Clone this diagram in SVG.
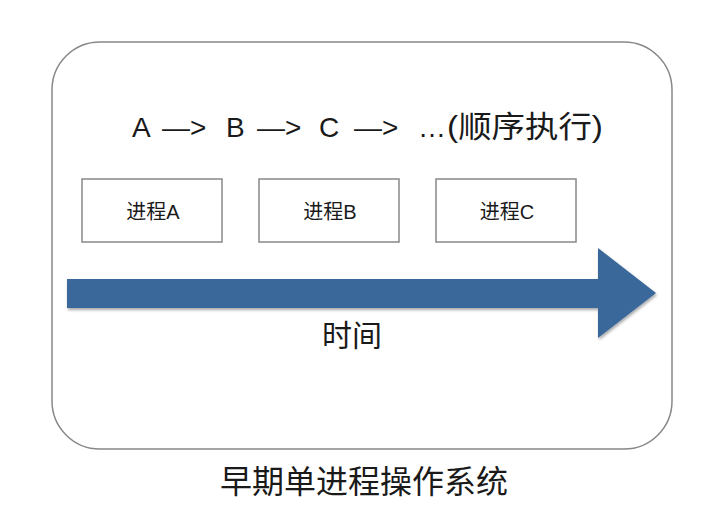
<svg xmlns="http://www.w3.org/2000/svg" width="710" height="507" viewBox="0 0 710 507">
<style>
text{font-family:"Liberation Sans","Noto Sans CJK SC",sans-serif;fill:#1a1a1a;}
.box{fill:#fff;stroke:#888;stroke-width:1.5;}
.lbl{font-size:20px;text-anchor:middle;}
</style>
<defs>
<filter id="sh" x="-5%" y="-20%" width="110%" height="140%">
<feGaussianBlur in="SourceAlpha" stdDeviation="1.5"/>
<feOffset dx="1" dy="2" result="o"/>
<feComponentTransfer><feFuncA type="linear" slope="0.35"/></feComponentTransfer>
<feMerge><feMergeNode/><feMergeNode in="SourceGraphic"/></feMerge>
</filter>
</defs>
<rect width="710" height="507" fill="#fff"/>
<g id="frame">
<rect x="52" y="42" width="620" height="407" rx="48" fill="#fff" stroke="#888" stroke-width="1.5"/>
</g>
<g id="title">
<text y="137" font-size="28"><tspan x="132">A</tspan><tspan x="162">—&gt;</tspan><tspan x="226">B</tspan><tspan x="257">—&gt;</tspan><tspan x="319">C</tspan><tspan x="354">—&gt;</tspan><tspan x="418">…</tspan><tspan x="447" font-size="30" textLength="156" lengthAdjust="spacingAndGlyphs">(顺序执行)</tspan></text>
</g>
<g id="procA">
<rect class="box" x="82" y="179" width="140" height="63"/>
<text class="lbl" x="153" y="219">进程A</text>
</g>
<g id="procB">
<rect class="box" x="259" y="179" width="140" height="63"/>
<text class="lbl" x="330" y="219">进程B</text>
</g>
<g id="procC">
<rect class="box" x="436" y="179" width="140" height="63"/>
<text class="lbl" x="507" y="219">进程C</text>
</g>
<g id="connectors">
<path d="M67 279 H598 V248 L656 293 L598 338 V308 H67 Z" fill="#3b689b" filter="url(#sh)"/>
</g>
<g id="time">
<text x="352" y="346" font-size="30" text-anchor="middle">时间</text>
</g>
<g id="caption">
<text x="364" y="493" font-size="32" text-anchor="middle">早期单进程操作系统</text>
</g>
</svg>
